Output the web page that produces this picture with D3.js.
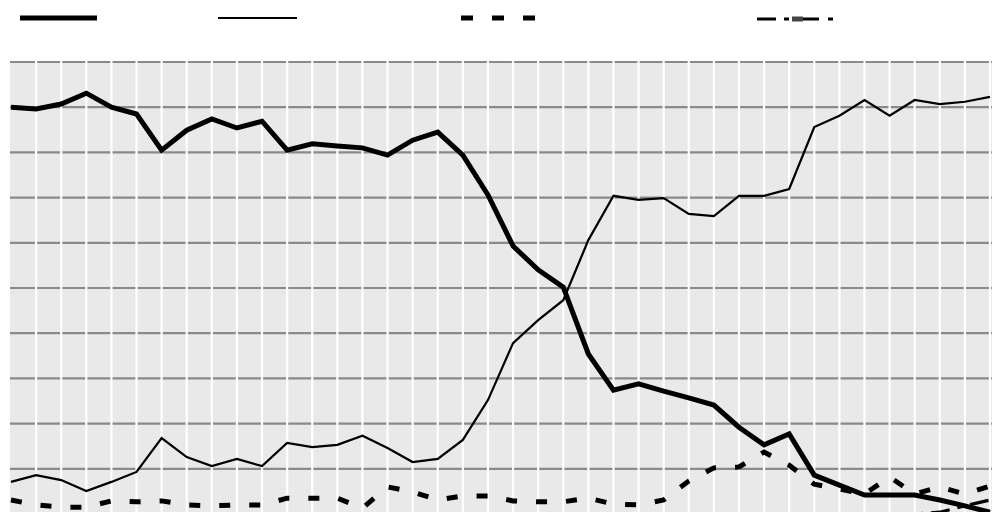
<!DOCTYPE html>
<html>
<head>
<meta charset="utf-8">
<script src="https://cdn.jsdelivr.net/npm/d3@7"></script>
<style>
  body { margin: 0; background: #ffffff; }
  svg  { display: block; }
</style>
</head>
<body>
<svg id="renderBox" width="992" height="512"></svg>
<script>

// values (percent), one per period
const seriesThick   = [90.0, 89.6, 90.7, 93.1, 90.0, 88.5, 80.5, 84.9, 87.4, 85.4,
                       86.9, 80.5, 81.9, 81.4, 81.0, 79.4, 82.7, 84.5, 79.4, 70.6,
                       59.3, 54.0, 50.2, 35.4, 27.4, 28.8, 27.2, 25.7, 24.1, 19.2,
                       15.3, 17.7,  8.6,  6.4,  4.2,  4.2,  4.2,  3.1,  1.8,  0.4];
const seriesThin    = [ 7.1,  8.6,  7.5,  5.1,  7.1,  9.3, 16.8, 12.6, 10.6, 12.2,
                       10.6, 15.7, 14.8, 15.3, 17.3, 14.6, 11.5, 12.2, 16.4, 25.2,
                       37.8, 42.9, 47.3, 60.6, 70.4, 69.5, 69.9, 66.4, 65.9, 70.4,
                       70.4, 71.9, 85.6, 88.1, 91.6, 88.1, 91.6, 90.7, 91.2, 92.3];
const seriesDashed  = [ 3.1,  2.0,  1.5,  1.5,  2.9,  2.7,  2.9,  2.0,  1.8,  2.0,
                        2.0,  3.5,  3.5,  3.5,  1.3,  6.0,  4.9,  3.1,  4.0,  4.0,
                        2.9,  2.7,  2.7,  3.5,  2.2,  2.0,  3.1,  7.3, 10.2, 10.4,
                       13.7, 10.8,  6.6,  5.5,  4.4,  8.2,  4.4,  6.0,  4.4,  6.2];
const seriesDashDot = [ 0.0,  0.0,  0.0,  0.0,  0.0,  0.0,  0.0,  0.0,  0.0,  0.0,
                        0.0,  0.0,  0.0,  0.0,  0.0,  0.0,  0.0,  0.0,  0.0,  0.0,
                        0.0,  0.0,  0.0,  0.0,  0.0,  0.0,  0.0,  0.0,  0.0,  0.0,
                        0.0,  0.0,  0.0,  0.0,  0.0,  0.0,  0.0,  0.4,  1.8,  3.1];
const yTicks        = [0, 10, 20, 30, 40, 50, 60, 70, 80, 90, 100];
const periods       = d3.range(seriesThick.length);

const LEFT          =   11;
const RIGHT         =   990;
const TOP           =   62;
const BOTTOM        =   514;   // plot runs a little past the bottom of the window

const svg = d3.select('#renderBox');

const x = d3.scaleLinear().domain([0, periods.length - 1]).range([LEFT, RIGHT]);
const y = d3.scaleLinear().domain([0, 100]).range([BOTTOM, TOP]);

// background
svg.append('rect')
    .attr('x', LEFT - 1)
    .attr('y', TOP)
    .attr('width', 992 - LEFT + 1)
    .attr('height', BOTTOM - TOP)
    .attr('fill', '#e9e9e9');

// horizontal grid (gray), then vertical grid (white) on top
svg.append('g')
    .selectAll('line')
    .data(yTicks)
    .join('line')
    .attr('x1', LEFT - 1)
    .attr('x2', 992)
    .attr('y1', d => y(d))
    .attr('y2', d => y(d))
    .attr('stroke', '#8a8a8a')
    .attr('stroke-width', 2.2);

svg.append('g')
    .selectAll('line')
    .data(periods.slice(1))
    .join('line')
    .attr('x1', d => x(d))
    .attr('x2', d => x(d))
    .attr('y1', TOP - 1.5)
    .attr('y2', BOTTOM)
    .attr('stroke', '#ffffff')
    .attr('stroke-width', 2.2);

const line = d3.line()
    .x((d, i) => x(i))
    .y(d => y(d));

const series = [
    { values: seriesThin,    width: 2.2, dash: null,       legendDash: null,                 lx: 218, lw: 79, ly: 18 },
    { values: seriesDashDot, width: 3.2, dash: '19,8,5,8', legendDash: '19,8,5,3,27,9,5,50', lx: 757, lw: 76, ly: 19 },
    { values: seriesDashed,  width: 5,   dash: '11,19',    legendDash: '12,19',              lx: 461, lw: 74, ly: 18 },
    { values: seriesThick,   width: 5,   dash: null,       legendDash: null,                 lx: 20,  lw: 77, ly: 18 }
];

svg.append('g')
    .selectAll('path')
    .data(series)
    .join('path')
    .attr('d', d => line(d.values))
    .attr('fill', 'none')
    .attr('stroke', '#000000')
    .attr('stroke-width', d => d.width)
    .attr('stroke-dasharray', d => d.dash)
    .attr('stroke-linejoin', 'miter');

// legend (swatches only, no labels visible)
svg.append('g')
    .selectAll('line')
    .data(series)
    .join('line')
    .attr('x1', d => d.lx)
    .attr('x2', d => d.lx + d.lw)
    .attr('y1', d => d.ly)
    .attr('y2', d => d.ly)
    .attr('stroke', '#000000')
    .attr('stroke-width', d => d.width)
    .attr('stroke-dasharray', d => d.legendDash);

svg.append('rect')
    .attr('x', 792)
    .attr('y', 16.5)
    .attr('width', 11)
    .attr('height', 5)
    .attr('fill', '#444444');

</script>
</body>
</html>
